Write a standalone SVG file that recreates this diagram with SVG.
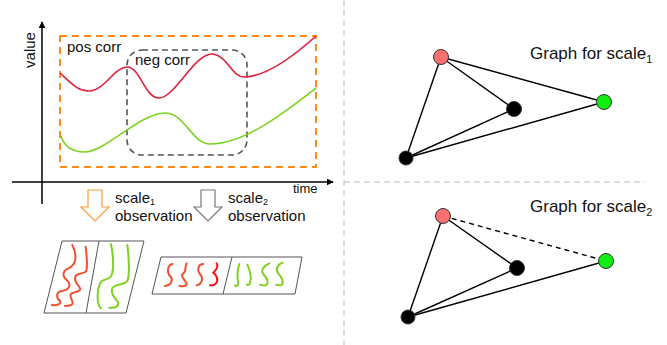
<svg xmlns="http://www.w3.org/2000/svg" width="667" height="345" viewBox="0 0 667 345">
<defs>
<style>
text{font-family:"Liberation Sans",Arial,sans-serif;fill:#111}
.lbl{font-size:15px}
.axis{stroke:#000;stroke-width:1.5;fill:none}
.sep{stroke:#bbb;stroke-width:1;stroke-dasharray:6,4;fill:none}
.edge{stroke:#000;stroke-width:1.4;fill:none}
.dash{stroke-dasharray:5,4}
.panel{stroke:#555;stroke-width:1;fill:none}
.sqr{stroke:#f05030;stroke-width:6;fill:none;stroke-linecap:round}
.sqg{stroke:#80d020;stroke-width:6;fill:none;stroke-linecap:round}
.node{stroke:#333;stroke-width:1}
</style>
<marker id="ah" viewBox="0 0 10 10" refX="9" refY="5" markerWidth="7" markerHeight="7" orient="auto" markerUnits="userSpaceOnUse">
<path d="M0,0 L10,5 L0,10 z" fill="#000"/>
</marker>
</defs>

<!-- separators -->
<line class="sep" x1="344" y1="0" x2="344" y2="345"/>
<line class="sep" x1="344" y1="182" x2="645" y2="182"/>

<!-- plot -->
<g id="plot">
<line class="axis" x1="42" y1="204" x2="42" y2="22" marker-end="url(#ah)"/>
<line class="axis" x1="12" y1="182" x2="333" y2="182" marker-end="url(#ah)"/>
<text class="lbl" transform="translate(35,50) rotate(-90)" text-anchor="middle">value</text>
<text x="293" y="193" style="font-size:13px">time</text>
<rect x="60" y="36" width="256" height="131" fill="none" stroke="#ff8c1a" stroke-width="2" stroke-dasharray="7,5"/>
<rect x="127" y="50" width="120" height="105" rx="15" fill="none" stroke="#555" stroke-width="1.6" stroke-dasharray="6,4"/>
<path d="M60,73 C70,82 78,92 90,91 C105,90 115,66 128,67 C140,68 145,98 159,98 C175,98 195,52 213,54 C228,56 232,78 245,77 C268,76 295,55 316,36" fill="none" stroke="#e0203c" stroke-width="1.6"/>
<path d="M61,136 C64,146 72,152 85,152 C105,152 140,113 165,113 C185,113 192,144 210,144 C245,144 285,112 316,88" fill="none" stroke="#7ed321" stroke-width="1.6"/>
<text class="lbl" x="67" y="52">pos corr</text>
<text class="lbl" x="135" y="65">neg corr</text>
</g>

<!-- observation arrows -->
<g id="arrow1">
<polygon points="88,190 102,190 102,207 109,207 95,221 81,207 88,207" fill="#fff" stroke="#ff9933" stroke-width="1.2"/>
<text class="lbl" x="115" y="203">scale<tspan dy="2" style="font-size:9px">1</tspan></text>
<text class="lbl" x="115" y="221">observation</text>
</g>
<g id="arrow2">
<polygon points="201,190 215,190 215,207 222,207 208,221 194,207 201,207" fill="#fff" stroke="#777" stroke-width="1.2"/>
<text class="lbl" x="228" y="203">scale<tspan dy="2" style="font-size:9px">2</tspan></text>
<text class="lbl" x="228" y="221">observation</text>
</g>

<!-- scale1 panel -->
<g id="panel1">
<polygon class="panel" points="62,241 144,241 126,313 44,313"/>
<line class="panel" x1="99" y1="241" x2="86" y2="313"/>
<g transform="translate(40,235) scale(0.3333)">
<path class="sqr" d="M97,30 C112,60 110,90 85,100 C65,108 68,125 80,135 C95,148 90,165 65,168 C45,172 50,190 60,198 C65,208 50,212 35,210"/>
<path class="sqr" d="M137,35 C140,60 142,100 138,110 C130,118 105,112 105,130 C105,150 125,155 120,165 C112,175 88,168 92,185 C96,200 110,212 75,213"/>
<path class="sqg" d="M213,28 C220,60 222,100 215,120 C208,138 185,130 180,145 C172,165 172,190 175,205 C177,214 180,218 182,220"/>
<path class="sqg" d="M262,30 C266,60 270,120 262,138 C255,150 225,145 217,160 C210,175 225,190 233,200 C240,212 228,220 208,218"/>
</g>
</g>

<!-- scale2 panel -->
<g id="panel2">
<polygon class="panel" points="161,257 302,257 295,294 152,294"/>
<line class="panel" x1="232" y1="257" x2="223" y2="294"/>
<g transform="translate(150,250) scale(0.3333)">
<path class="sqr" d="M68,42 C52,44 50,68 60,78 C70,88 66,105 45,108"/>
<path class="sqr" d="M110,40 C102,50 112,62 100,70 C88,78 106,90 110,100 C112,108 98,110 88,108"/>
<path class="sqr" d="M160,42 C145,42 140,60 150,72 C160,84 158,100 140,106"/>
<path class="sqr" style="stroke:#ff1010" d="M200,40 C208,52 195,62 190,68 C200,75 206,90 198,100 C192,108 185,106 180,106"/>
<path class="sqg" d="M268,42 C262,60 262,85 265,100 C266,108 258,110 255,106"/>
<path class="sqg" d="M292,44 C300,62 305,85 300,98 C298,106 292,106 290,104"/>
<path class="sqg" d="M358,40 C340,48 330,62 342,75 C352,86 358,95 350,104 C345,108 336,106 330,104"/>
<path class="sqg" d="M398,38 C382,44 375,58 385,70 C395,82 402,95 396,104 C392,108 385,106 378,104"/>
</g>
</g>

<!-- graph connectors -->
<g id="connectors">
<line class="edge" x1="441" y1="57" x2="406" y2="158"/>
<line class="edge" x1="441" y1="57" x2="514" y2="109"/>
<line class="edge" x1="441" y1="57" x2="604" y2="102"/>
<line class="edge" x1="406" y1="158" x2="514" y2="109"/>
<line class="edge" x1="406" y1="158" x2="604" y2="102"/>
<line class="edge" x1="443" y1="216" x2="408" y2="317"/>
<line class="edge" x1="443" y1="216" x2="517" y2="268"/>
<line class="edge dash" x1="443" y1="216" x2="606" y2="261"/>
<line class="edge" x1="408" y1="317" x2="517" y2="268"/>
<line class="edge" x1="408" y1="317" x2="606" y2="261"/>
</g>
<g id="g1-red"><circle class="node" cx="441" cy="57" r="7.5" fill="#f87070"/></g>
<g id="g1-mid"><circle class="node" cx="514" cy="109" r="7.5" fill="#000"/></g>
<g id="g1-green"><circle class="node" cx="604" cy="102" r="7.5" fill="#11ee11"/></g>
<g id="g1-bl"><circle class="node" cx="406" cy="158" r="7" fill="#000"/></g>
<g id="g1-label"><text x="530" y="59" style="font-size:17px">Graph for scale<tspan dy="4" style="font-size:11px">1</tspan></text></g>

<g id="g2-red"><circle class="node" cx="443" cy="216" r="7.5" fill="#f87070"/></g>
<g id="g2-mid"><circle class="node" cx="517" cy="268" r="7.5" fill="#000"/></g>
<g id="g2-green"><circle class="node" cx="606" cy="261" r="7.5" fill="#11ee11"/></g>
<g id="g2-bl"><circle class="node" cx="408" cy="317" r="7" fill="#000"/></g>
<g id="g2-label"><text x="530" y="212" style="font-size:17px">Graph for scale<tspan dy="4" style="font-size:11px">2</tspan></text></g>
</svg>
